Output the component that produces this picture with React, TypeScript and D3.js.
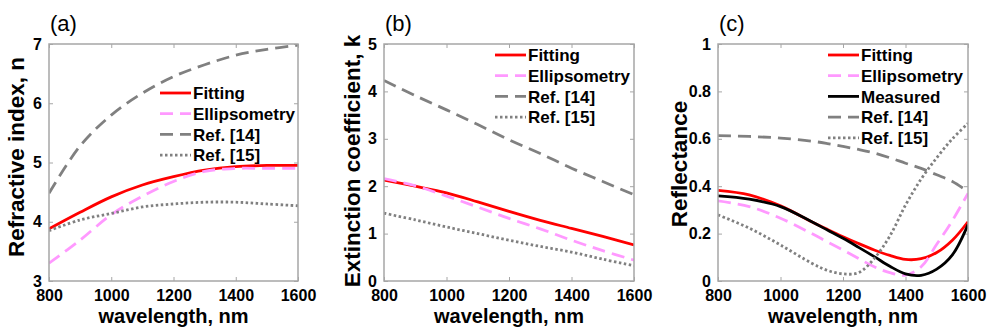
import { useEffect, useRef } from 'react'
import * as d3 from 'd3'

const W = 987, H = 331

// wavelength grids (nm)
const wlAB = [800, 900, 1000, 1100, 1200, 1300, 1400, 1500, 1600]
const wlC = [800, 900, 1000, 1100, 1150, 1200, 1250, 1300, 1350, 1400, 1450, 1500, 1550, 1600]
const xTicks = [800, 1000, 1200, 1400, 1600]

// (a) refractive index, n
const nFit = [3.88, 4.16, 4.42, 4.62, 4.76, 4.87, 4.93, 4.95, 4.95]
const nEll = [3.30, 3.69, 4.12, 4.43, 4.68, 4.85, 4.90, 4.90, 4.90]
const nRef14 = [4.48, 5.28, 5.80, 6.17, 6.45, 6.65, 6.81, 6.91, 6.98]
const nRef15 = [3.85, 4.03, 4.14, 4.25, 4.30, 4.33, 4.33, 4.30, 4.27]
const nTicks = [3, 4, 5, 6, 7]

// (b) extinction coefficient, k
const kFit = [2.13, 2.00, 1.86, 1.67, 1.47, 1.28, 1.11, 0.94, 0.76]
const kEll = [2.16, 2.01, 1.79, 1.56, 1.32, 1.10, 0.86, 0.64, 0.44]
const kRef14 = [4.23, 3.91, 3.61, 3.30, 2.98, 2.69, 2.38, 2.10, 1.82]
const kRef15 = [1.43, 1.29, 1.14, 1.00, 0.86, 0.73, 0.61, 0.46, 0.32]
const kTicks = [0, 1, 2, 3, 4, 5]

// (c) reflectance
const rFit = [0.382, 0.363, 0.317, 0.25, 0.218, 0.187, 0.158, 0.131, 0.108, 0.091, 0.094, 0.12, 0.172, 0.25]
const rEll = [0.338, 0.314, 0.265, 0.20, 0.165, 0.131, 0.095, 0.06, 0.035, 0.025, 0.06, 0.155, 0.255, 0.37]
const rMeas = [0.359, 0.345, 0.314, 0.25, 0.215, 0.18, 0.142, 0.103, 0.062, 0.03, 0.024, 0.05, 0.11, 0.238]
const rRef14 = [0.613, 0.61, 0.603, 0.59, 0.58, 0.568, 0.555, 0.54, 0.52, 0.497, 0.475, 0.448, 0.42, 0.377]
const rRef15 = [0.279, 0.223, 0.152, 0.075, 0.045, 0.03, 0.035, 0.095, 0.19, 0.32, 0.43, 0.52, 0.60, 0.665]
const rTicks = [0, 0.2, 0.4, 0.6, 0.8, 1]

type Style = { color: string; dash: string | null }
const STYLE: Record<string, Style> = {
  'Fitting': { color: '#ff0000', dash: null },
  'Ellipsometry': { color: '#ff99ff', dash: '13,7' },
  'Measured': { color: '#000000', dash: null },
  'Ref. [14]': { color: '#808080', dash: '13,7' },
  'Ref. [15]': { color: '#808080', dash: '2.5,2.5' },
}

type Panel = {
  id: string; tag: string; ylabel: string
  l: number; r: number; t: number; b: number
  yDom: [number, number]; yTicks: number[]; ylabX: number; ylabY: number
  wl: number[]; series: [string, number[]][]
  legX: number; legY: number
}

const panels: Panel[] = [
  {
    id: 'a', tag: '(a)', ylabel: 'Refractive index, n',
    l: 49, r: 298, t: 44, b: 281, yDom: [3, 7], yTicks: nTicks, ylabX: 16, ylabY: 157,
    wl: wlAB, series: [['Fitting', nFit], ['Ellipsometry', nEll], ['Ref. [14]', nRef14], ['Ref. [15]', nRef15]],
    legX: 160, legY: 93,
  },
  {
    id: 'b', tag: '(b)', ylabel: 'Extinction coefficient, k',
    l: 384, r: 634, t: 44, b: 281, yDom: [0, 5], yTicks: kTicks, ylabX: 352, ylabY: 161,
    wl: wlAB, series: [['Fitting', kFit], ['Ellipsometry', kEll], ['Ref. [14]', kRef14], ['Ref. [15]', kRef15]],
    legX: 495, legY: 55,
  },
  {
    id: 'c', tag: '(c)', ylabel: 'Reflectance',
    l: 718, r: 968, t: 44, b: 281, yDom: [0, 1], yTicks: rTicks, ylabX: 679, ylabY: 164,
    wl: wlC, series: [['Fitting', rFit], ['Ellipsometry', rEll], ['Measured', rMeas], ['Ref. [14]', rRef14], ['Ref. [15]', rRef15]],
    legX: 828, legY: 55,
  },
]

const FONT = '"Liberation Sans", Arial, Helvetica, sans-serif'
const AXC = '#a6a6a6'

export default function App() {
  const ref = useRef<SVGSVGElement>(null)

  useEffect(() => {
    const svg = d3.select(ref.current!)
    svg.selectAll('*').remove()
    svg.append('rect').attr('width', W).attr('height', H).attr('fill', '#fff')

    panels.forEach(p => {
      const x = d3.scaleLinear().domain([800, 1600]).range([p.l, p.r])
      const y = d3.scaleLinear().domain(p.yDom).range([p.b, p.t])
      const g = svg.append('g')

      svg.append('clipPath').attr('id', `clip-${p.id}`).append('rect')
        .attr('x', p.l).attr('y', p.t).attr('width', p.r - p.l).attr('height', p.b - p.t)

      // axes box + inward ticks on all four sides
      const tick = (sel: d3.Selection<SVGGElement, unknown, null, undefined>) => {
        sel.select('.domain').remove()
        sel.selectAll('line').attr('stroke', AXC).attr('stroke-width', 1)
      }
      g.append('g').attr('transform', `translate(0,${p.b})`)
        .call(d3.axisBottom(x).tickValues(xTicks).tickSizeInner(-4).tickSizeOuter(0).tickPadding(9).tickFormat(d3.format('d')))
        .call(tick)
        .selectAll('text').attr('fill', '#000').attr('font-size', 16).attr('font-weight', 'bold').attr('font-family', FONT)
      g.append('g').attr('transform', `translate(0,${p.t})`)
        .call(d3.axisTop(x).tickValues(xTicks).tickSizeInner(-4).tickSizeOuter(0).tickFormat(() => ''))
        .call(tick)
      g.append('g').attr('transform', `translate(${p.l},0)`)
        .call(d3.axisLeft(y).tickValues(p.yTicks).tickSizeInner(-4).tickSizeOuter(0).tickPadding(7).tickFormat(d => String(+d)))
        .call(tick)
        .selectAll('text').attr('fill', '#000').attr('font-size', 16).attr('font-weight', 'bold').attr('font-family', FONT)
      g.append('g').attr('transform', `translate(${p.r},0)`)
        .call(d3.axisRight(y).tickValues(p.yTicks).tickSizeInner(-4).tickSizeOuter(0).tickFormat(() => ''))
        .call(tick)
      g.selectAll('.tick').attr('font-family', FONT)

      // curves
      const lines = g.append('g').attr('clip-path', `url(#clip-${p.id})`)
      p.series.forEach(([name, vals]) => {
        const st = STYLE[name]
        const line = d3.line<number>()
          .x((_, i) => x(p.wl[i])).y(v => y(v))
          .curve(d3.curveCatmullRom.alpha(0.5))
        lines.append('path').datum(vals)
          .attr('fill', 'none').attr('stroke', st.color).attr('stroke-width', 2.8)
          .attr('stroke-dasharray', st.dash)
          .attr('d', line)
      })

      g.append('rect').attr('x', p.l).attr('y', p.t).attr('width', p.r - p.l).attr('height', p.b - p.t)
        .attr('fill', 'none').attr('stroke', AXC).attr('stroke-width', 1.5)

      // legend
      p.series.forEach(([name], i) => {
        const st = STYLE[name]
        const ly = p.legY + i * 20.7
        g.append('line').attr('x1', p.legX).attr('x2', p.legX + 31).attr('y1', ly).attr('y2', ly)
          .attr('stroke', st.color).attr('stroke-width', 2.8).attr('stroke-dasharray', st.dash)
        g.append('text').attr('x', p.legX + 33).attr('y', ly).attr('dy', '0.36em')
          .attr('font-family', FONT).attr('font-weight', 'bold').attr('font-size', 17).text(name)
      })

      // labels
      g.append('text').attr('x', p.l + 1).attr('y', 31)
        .attr('font-family', FONT).attr('font-size', 22).text(p.tag)
      g.append('text').attr('x', (p.l + p.r) / 2).attr('y', 323).attr('text-anchor', 'middle')
        .attr('font-family', FONT).attr('font-weight', 'bold').attr('font-size', 20).text('wavelength, nm')
      g.append('text').attr('transform', `translate(${p.ylabX},${p.ylabY}) rotate(-90)`)
        .attr('text-anchor', 'middle').attr('dy', '0.36em')
        .attr('font-family', FONT).attr('font-weight', 'bold').attr('font-size', 22.5).text(p.ylabel)
    })
  }, [])

  return <svg ref={ref} width={W} height={H} style={{ position: 'absolute', left: 0, top: 0 }} />
}
